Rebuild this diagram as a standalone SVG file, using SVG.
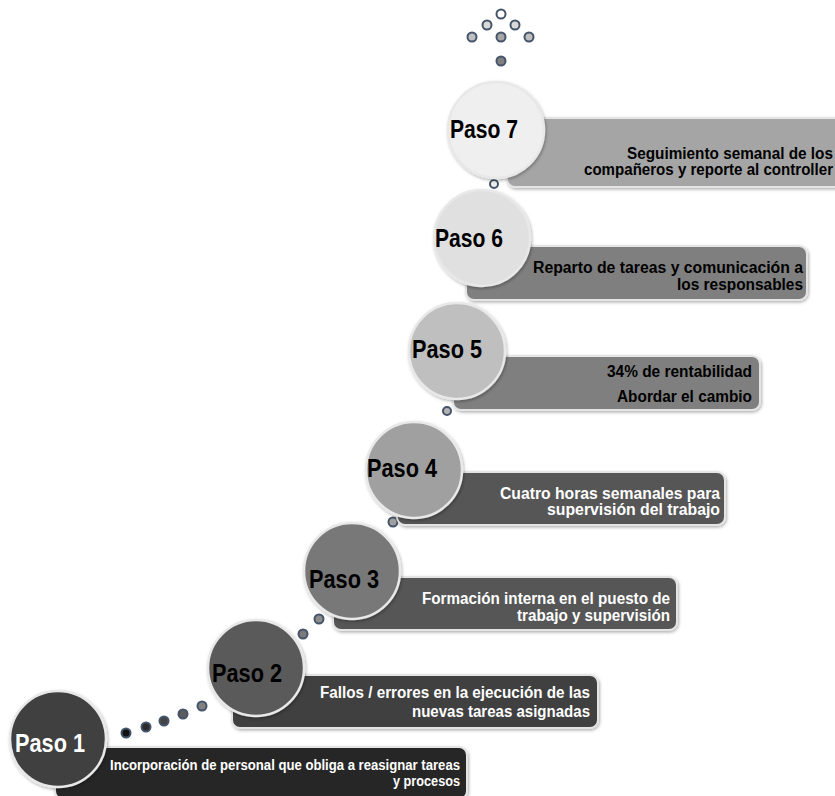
<svg xmlns="http://www.w3.org/2000/svg" width="835" height="796" viewBox="0 0 835 796">
<defs>
<filter id="sh" x="-10%" y="-10%" width="120%" height="130%">
<feDropShadow dx="1" dy="1.5" stdDeviation="1.5" flood-color="#000" flood-opacity="0.3"/>
</filter>
<style>
.box{stroke:#e4e4e4;stroke-width:2;filter:url(#sh)}
.circ{stroke:#e8e8e8;stroke-width:2.5;filter:url(#sh)}
.lbl{font-family:"Liberation Sans Narrow","Liberation Sans",Arial,sans-serif;font-weight:bold;font-size:25px}
.txt{font-family:"Liberation Sans Narrow","Liberation Sans",Arial,sans-serif;font-weight:bold;font-size:16px;text-anchor:end}
.sm{font-size:14px}
.w{fill:#ffffff}
.k{fill:#000000}
.dot{stroke:#44546a;stroke-width:2}
</style>
</defs>
<rect width="835" height="796" fill="#ffffff"/>
<g id="connectors">
<circle class="dot" cx="501" cy="14" r="4.5" fill="#ffffff"/>
<circle class="dot" cx="487" cy="25" r="4.5" fill="#d9d9d9"/>
<circle class="dot" cx="515" cy="25" r="4.5" fill="#d9d9d9"/>
<circle class="dot" cx="472" cy="37" r="4.5" fill="#bfbfbf"/>
<circle class="dot" cx="501" cy="37" r="4.5" fill="#a6a6a6"/>
<circle class="dot" cx="529" cy="37" r="4.5" fill="#bfbfbf"/>
<circle class="dot" cx="501" cy="61" r="4.5" fill="#808080"/>
<circle class="dot" cx="494" cy="184" r="4" fill="#ececec"/>
<circle class="dot" cx="447" cy="411" r="4" fill="#b4b4b4"/>
<circle class="dot" cx="393" cy="522" r="4.5" fill="#a0a0a0"/>
<circle class="dot" cx="319" cy="619" r="4.5" fill="#8c8c8c"/>
<circle class="dot" cx="303" cy="634" r="4.5" fill="#7a7a7a"/>
<circle class="dot" cx="202" cy="706" r="4.5" fill="#808080"/>
<circle class="dot" cx="183" cy="714" r="4.5" fill="#5c5c5c"/>
<circle class="dot" cx="164" cy="721" r="4.5" fill="#444444"/>
<circle class="dot" cx="146" cy="727" r="4.5" fill="#2b2b2b"/>
<circle class="dot" cx="126" cy="733" r="4.5" fill="#111111"/>
</g>
<g id="paso7">
<rect class="box" x="507" y="118" width="345" height="69" rx="8" fill="#a5a5a5"/>
<circle class="circ" cx="496" cy="130" r="48" fill="#efefef"/>
<text class="lbl k" x="450" y="138" textLength="68" lengthAdjust="spacingAndGlyphs">Paso 7</text>
<text class="txt k" x="833" y="159" textLength="206" lengthAdjust="spacingAndGlyphs">Seguimiento semanal de los</text>
<text class="txt k" x="833" y="175" textLength="249" lengthAdjust="spacingAndGlyphs">compañeros y reporte al controller</text>
</g>
<g id="paso6">
<rect class="box" x="466" y="246" width="341" height="54" rx="8" fill="#7f7f7f"/>
<circle class="circ" cx="482" cy="238" r="48" fill="#e0e0e0"/>
<text class="lbl k" x="435" y="247" textLength="68" lengthAdjust="spacingAndGlyphs">Paso 6</text>
<text class="txt k" x="803" y="273" textLength="270" lengthAdjust="spacingAndGlyphs">Reparto de tareas y comunicación a</text>
<text class="txt k" x="803" y="290" textLength="126" lengthAdjust="spacingAndGlyphs">los responsables</text>
</g>
<g id="paso5">
<rect class="box" x="453" y="356" width="307" height="54" rx="8" fill="#7f7f7f"/>
<circle class="circ" cx="457" cy="351" r="48" fill="#bfbfbf"/>
<text class="lbl k" x="412" y="358" textLength="70" lengthAdjust="spacingAndGlyphs">Paso 5</text>
<text class="txt k" x="752" y="377" textLength="145" lengthAdjust="spacingAndGlyphs">34% de rentabilidad</text>
<text class="txt k" x="752" y="402" textLength="135" lengthAdjust="spacingAndGlyphs">Abordar el cambio</text>
</g>
<g id="paso4">
<rect class="box" x="397" y="472" width="328" height="53" rx="8" fill="#575757"/>
<circle class="circ" cx="414" cy="470" r="48" fill="#a0a0a0"/>
<text class="lbl k" x="367" y="477" textLength="70" lengthAdjust="spacingAndGlyphs">Paso 4</text>
<text class="txt w" x="720" y="499" textLength="220" lengthAdjust="spacingAndGlyphs">Cuatro horas semanales para</text>
<text class="txt w" x="720" y="515" textLength="173" lengthAdjust="spacingAndGlyphs">supervisión del trabajo</text>
</g>
<g id="paso3">
<rect class="box" x="333" y="577" width="344" height="53" rx="8" fill="#575757"/>
<circle class="circ" cx="352" cy="571" r="48" fill="#787878"/>
<text class="lbl k" x="309" y="588" textLength="70" lengthAdjust="spacingAndGlyphs">Paso 3</text>
<text class="txt w" x="670" y="604" textLength="248" lengthAdjust="spacingAndGlyphs">Formación interna en el puesto de</text>
<text class="txt w" x="670" y="621" textLength="153" lengthAdjust="spacingAndGlyphs">trabajo y supervisión</text>
</g>
<g id="paso2">
<rect class="box" x="232" y="675" width="366" height="53" rx="8" fill="#3f3f3f"/>
<circle class="circ" cx="256" cy="668" r="48" fill="#5a5a5a"/>
<text class="lbl k" x="212" y="682" textLength="70" lengthAdjust="spacingAndGlyphs">Paso 2</text>
<text class="txt w" x="590" y="698" textLength="270" lengthAdjust="spacingAndGlyphs">Fallos / errores en la ejecución de las</text>
<text class="txt w" x="590" y="717" textLength="178" lengthAdjust="spacingAndGlyphs">nuevas tareas asignadas</text>
</g>
<g id="paso1">
<rect class="box" x="55" y="747" width="412" height="52" rx="8" fill="#262626"/>
<circle class="circ" cx="58" cy="739" r="48" fill="#404040"/>
<text class="lbl w" x="15" y="752" textLength="70" lengthAdjust="spacingAndGlyphs">Paso 1</text>
<text class="txt sm w" x="460" y="770" textLength="350" lengthAdjust="spacingAndGlyphs">Incorporación de personal que obliga a reasignar tareas</text>
<text class="txt sm w" x="460" y="786" textLength="67" lengthAdjust="spacingAndGlyphs">y procesos</text>
</g>
</svg>
